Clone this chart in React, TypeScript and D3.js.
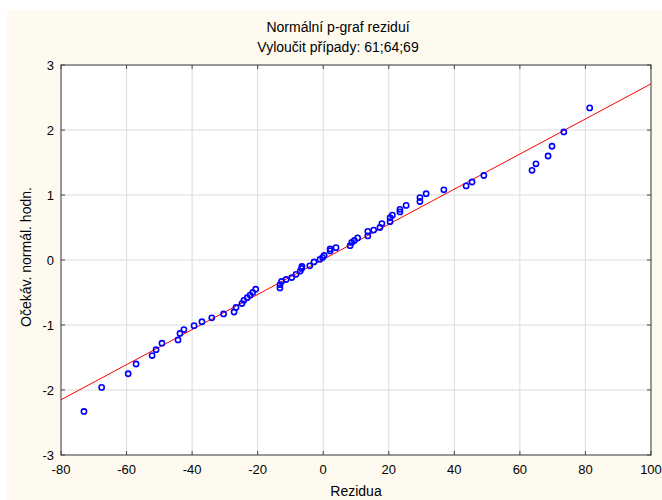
import React from "react";
import * as d3 from "d3";

const title = "Normální p-graf reziduí";
const subtitle = "Vyloučit případy: 61;64;69";
const xLabel = "Rezidua";
const yLabel = "Očekáv. normál. hodn.";

const xTicks = [-80, -60, -40, -20, 0, 20, 40, 60, 80, 100];
const yTicks = [-3, -2, -1, 0, 1, 2, 3];

const residuals = [
  -73.0, -67.6, -59.5, -57.1, -52.2, -51.0, -49.2, -44.3, -43.7, -42.5,
  -39.4, -37.0, -34.0, -30.4, -27.2, -26.6, -24.8, -24.2, -23.2, -22.3,
  -21.5, -20.6, -13.2, -13.2, -12.7, -11.3, -9.6, -8.3, -7.0, -6.6,
  -6.5, -4.1, -2.8, -1.0, -0.2, 0.3, 2.1, 2.1, 3.9, 8.2,
  8.7, 9.5, 10.5, 13.6, 13.6, 15.4, 17.3, 17.9, 20.4, 20.4,
  21.1, 23.4, 23.4, 25.3, 29.5, 29.5, 31.4, 36.8, 43.6, 45.4,
  49.0, 63.7, 64.9, 68.6, 69.8, 73.4, 81.3,
];
const expected = [
  -2.33, -1.96, -1.75, -1.6, -1.47, -1.38, -1.28, -1.23, -1.13, -1.07,
  -1.01, -0.95, -0.89, -0.83, -0.8, -0.73, -0.67, -0.62, -0.58, -0.54,
  -0.5, -0.45, -0.43, -0.38, -0.33, -0.3, -0.27, -0.22, -0.17, -0.13,
  -0.1, -0.09, -0.03, 0.01, 0.04, 0.07, 0.14, 0.17, 0.19, 0.22,
  0.27, 0.3, 0.34, 0.37, 0.44, 0.46, 0.5, 0.56, 0.59, 0.65,
  0.69, 0.74, 0.78, 0.84, 0.9, 0.96, 1.02, 1.08, 1.14, 1.2,
  1.3, 1.38, 1.48, 1.6, 1.75, 1.97, 2.34,
];
const fitLine = [
  { x: -80, y: -2.15 },
  { x: 100, y: 2.71 },
];

const W = 662;
const H = 500;
const left = 61;
const right = 651;
const top = 65;
const bottom = 455;
const font = "'Liberation Sans', Arial, sans-serif";

export default function App() {
  const x = d3.scaleLinear().domain([-80, 100]).range([left, right]);
  const y = d3.scaleLinear().domain([-3, 3]).range([bottom, top]);
  const line = d3
    .line<{ x: number; y: number }>()
    .x((d) => x(d.x))
    .y((d) => y(d.y));
  const pts = residuals.map((r, i) => ({ x: r, y: expected[i] }));

  return (
    <svg
      width={W}
      height={H}
      style={{ position: "absolute", left: 0, top: 0, background: "#fff" }}
      fontFamily={font}
    >
      <rect x={7} y={10} width={W - 7} height={H - 10} fill="#FFFAEF" />
      <rect x={left} y={top} width={right - left} height={bottom - top} fill="#fff" />
      <defs>
        <clipPath id="plot">
          <rect x={left} y={top} width={right - left} height={bottom - top} />
        </clipPath>
      </defs>
      {xTicks.map((t) => (
        <line key={"gx" + t} x1={x(t)} x2={x(t)} y1={top} y2={bottom} stroke="#dcdcdc" strokeWidth={1} />
      ))}
      {yTicks.map((t) => (
        <line key={"gy" + t} x1={left} x2={right} y1={y(t)} y2={y(t)} stroke="#dcdcdc" strokeWidth={1} />
      ))}
      <path d={line(fitLine) || ""} stroke="#ff0000" strokeWidth={1} fill="none" clipPath="url(#plot)" />
      {pts.map((p, i) => (
        <circle key={i} cx={x(p.x)} cy={y(p.y)} r={2.6} fill="none" stroke="#0000ff" strokeWidth={1.6} />
      ))}
      <rect x={left} y={top} width={right - left} height={bottom - top} fill="none" stroke="#444" strokeWidth={1} />
      {xTicks.map((t) => (
        <g key={"tx" + t}>
          <line x1={x(t)} x2={x(t)} y1={bottom} y2={bottom - 4} stroke="#444" />
          <line x1={x(t)} x2={x(t)} y1={top} y2={top + 4} stroke="#444" />
          <text x={x(t)} y={bottom + 19} fontSize={13} textAnchor="middle" fill="#000">
            {t}
          </text>
        </g>
      ))}
      {yTicks.map((t) => (
        <g key={"ty" + t}>
          <line x1={left} x2={left + 4} y1={y(t)} y2={y(t)} stroke="#444" />
          <line x1={right} x2={right - 4} y1={y(t)} y2={y(t)} stroke="#444" />
          <text x={left - 7} y={y(t) + 4.5} fontSize={13} textAnchor="end" fill="#000">
            {t}
          </text>
        </g>
      ))}
      <text x={338} y={32} fontSize={14} textAnchor="middle" fill="#000">
        {title}
      </text>
      <text x={338} y={52} fontSize={14} textAnchor="middle" fill="#000">
        {subtitle}
      </text>
      <text x={(left + right) / 2} y={496} fontSize={14} textAnchor="middle" fill="#000">
        {xLabel}
      </text>
      <text
        transform={`translate(31, 257) rotate(-90)`}
        fontSize={14}
        textAnchor="middle"
        fill="#000"
      >
        {yLabel}
      </text>
    </svg>
  );
}
